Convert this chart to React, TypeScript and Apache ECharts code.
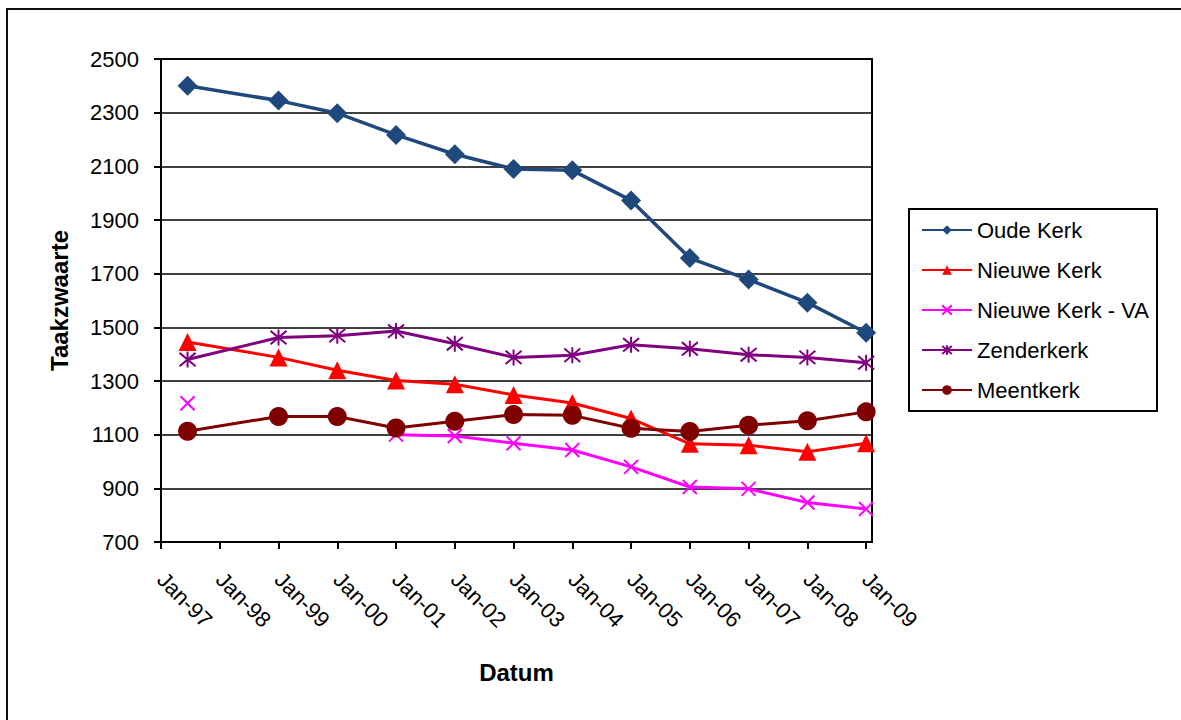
import React, { useEffect, useRef } from "react";
import * as echarts from "echarts";

const dates = [
  "1997-06-15", "1999-01-01", "2000-01-01", "2001-01-01", "2002-01-01", "2003-01-01",
  "2004-01-01", "2005-01-01", "2006-01-01", "2007-01-01", "2008-01-01", "2009-01-01",
];
const tickYears = [1997, 1998, 1999, 2000, 2001, 2002, 2003, 2004, 2005, 2006, 2007, 2008, 2009];
const yTicks = [700, 900, 1100, 1300, 1500, 1700, 1900, 2100, 2300, 2500];

const oudeKerk = [2400, 2345, 2298, 2217, 2145, 2090, 2085, 1973, 1758, 1678, 1592, 1480];
const nieuweKerk = [1445, 1388, 1340, 1302, 1288, 1248, 1218, 1160, 1066, 1061, 1036, 1068];
const nieuweKerkVA = [1217, null, null, 1100, 1095, 1068, 1043, 980, 905, 898, 847, 823];
const zenderkerk = [1380, 1462, 1469, 1486, 1439, 1388, 1396, 1435, 1420, 1398, 1388, 1368];
const meentkerk = [1113, 1168, 1168, 1125, 1150, 1175, 1172, 1124, 1112, 1135, 1152, 1185];

const seriesNames = ["Oude Kerk", "Nieuwe Kerk", "Nieuwe Kerk - VA", "Zenderkerk", "Meentkerk"];
const seriesColors = ["#1F497D", "#FF0000", "#FF00FF", "#800080", "#800000"];

const FONT = "'Liberation Sans', Arial, sans-serif";

function toYear(d: string): number {
  const [y, m, day] = d.split("-").map(Number);
  const start = Date.UTC(y, 0, 1);
  const end = Date.UTC(y + 1, 0, 1);
  return y + (Date.UTC(y, m - 1, day) - start) / (end - start);
}

function pairs(values: (number | null)[]) {
  return values.map((v, i) => [toYear(dates[i]), v === null ? "-" : v]);
}

const X_PATH = "path://M0 0 L10 10 M10 0 L0 10";
const STAR_PATH = "path://M0 0 L10 10 M10 0 L0 10 M5 -1 L5 11";

export default function App() {
  const ref = useRef<HTMLDivElement>(null);
  useEffect(() => {
    document.body.style.margin = "0";
    if (!ref.current) return;
    const chart = echarts.init(ref.current, undefined, { renderer: "svg" });
    const values = [oudeKerk, nieuweKerk, nieuweKerkVA, zenderkerk, meentkerk];
    const symbols = ["diamond", "triangle", X_PATH, STAR_PATH, "circle"];
    const sizes: any[] = [[20, 20], 18, 14, 16, 19];
    const widths = [3.5, 3, 3, 3, 3];
    const series = values.map((vals, i) => {
      const stroked = i === 2 || i === 3;
      return {
        name: seriesNames[i],
        type: "line",
        data: pairs(vals),
        symbol: symbols[i],
        symbolSize: sizes[i],
        showAllSymbol: true,
        connectNulls: false,
        lineStyle: { color: seriesColors[i], width: widths[i] },
        itemStyle: stroked
          ? { color: seriesColors[i], borderColor: seriesColors[i], borderWidth: 2 }
          : { color: seriesColors[i], borderWidth: 0 },
        z: 2 + i,
      };
    });
    chart.setOption({
      animation: false,
      backgroundColor: "#fff",
      textStyle: { fontFamily: FONT },
      graphic: [
        {
          type: "rect",
          shape: { x: 7, y: 9, width: 1200, height: 760 },
          style: { fill: "none", stroke: "#111", lineWidth: 2 },
          silent: true,
        },
      ],
      grid: {
        left: 161,
        right: 1181 - 872,
        top: 59,
        bottom: 720 - 542,
        show: true,
        borderColor: "#000",
        borderWidth: 2,
        backgroundColor: "transparent",
      },
      legend: {
        orient: "vertical",
        left: 909,
        top: 209,
        padding: [10, 8, 10, 12],
        itemGap: 18,
        itemWidth: 50,
        itemHeight: 12,
        borderColor: "#000",
        borderWidth: 2,
        data: seriesNames,
        lineStyle: { width: 2 },
        textStyle: { fontSize: 22, color: "#000", fontFamily: FONT },
      },
      xAxis: {
        type: "value",
        min: 1997,
        max: 2009.1,
        name: "Datum",
        nameLocation: "middle",
        nameGap: 118,
        nameTextStyle: { fontSize: 24, fontWeight: "bold", color: "#000", fontFamily: FONT },
        axisLine: { show: true, lineStyle: { color: "#000", width: 2 } },
        axisTick: { show: true, length: 7, customValues: tickYears, lineStyle: { color: "#000", width: 2 } },
        axisLabel: {
          customValues: tickYears,
          rotate: -45,
          margin: 34,
          fontSize: 22,
          color: "#000",
          fontFamily: FONT,
          formatter: (v: number) => "Jan-" + String(Math.round(v)).slice(2),
        },
        splitLine: { show: false },
      },
      yAxis: {
        type: "value",
        min: yTicks[0],
        max: yTicks[yTicks.length - 1],
        interval: 200,
        name: "Taakzwaarte",
        nameLocation: "middle",
        nameRotate: 90,
        nameGap: 90,
        nameTextStyle: { fontSize: 24, fontWeight: "bold", color: "#000", fontFamily: FONT },
        axisLine: { show: true, lineStyle: { color: "#000", width: 2 } },
        axisTick: { show: true, length: 7, lineStyle: { color: "#000", width: 2 } },
        axisLabel: {
          fontSize: 22,
          color: "#000",
          margin: 22,
          fontFamily: FONT,
          formatter: (v: number) => String(v),
        },
        splitLine: { show: true, lineStyle: { color: "#000", width: 1.5 } },
      },
      series,
    });
    return () => chart.dispose();
  }, []);
  return <div ref={ref} style={{ width: 1181, height: 720 }} />;
}
